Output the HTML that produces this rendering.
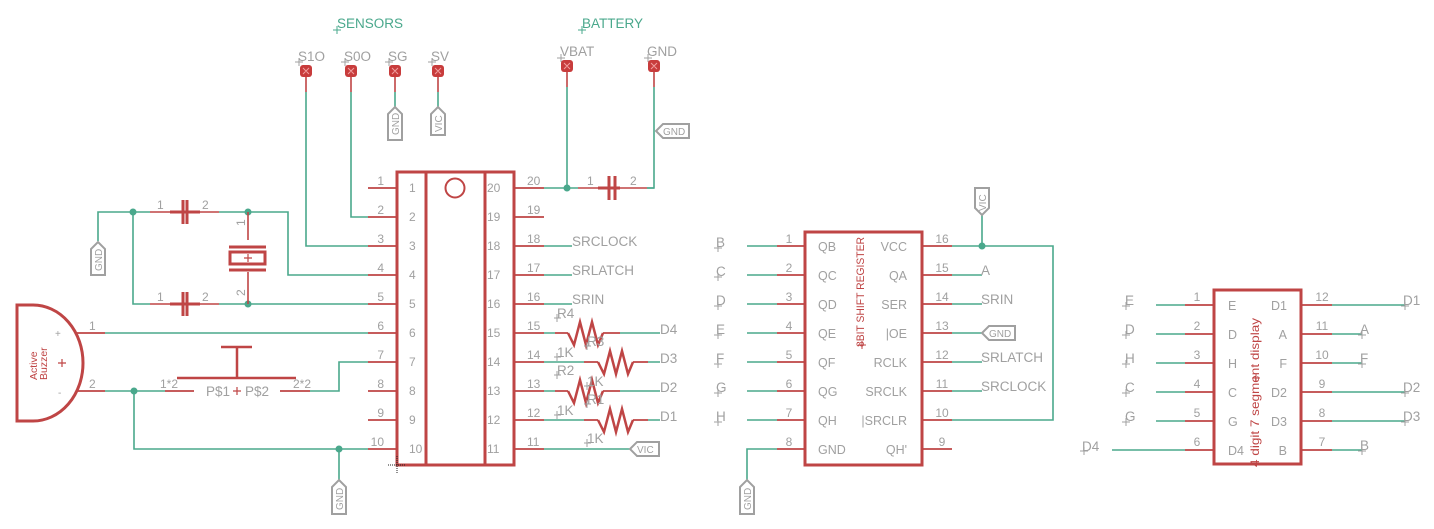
<!DOCTYPE html>
<html><head><meta charset="utf-8"><style>
html,body{margin:0;padding:0;background:#fff;}
svg{display:block;}
text{font-family:"Liberation Sans",sans-serif;fill:#a0a0a0;}
.r{stroke:#bf4545;fill:none;}
.g{stroke:#4aa88c;fill:none;stroke-width:1.6;}
.t{stroke:#a0a0a0;fill:#fff;stroke-width:2;}
.x{stroke:#a0a0a0;stroke-width:1;fill:none;}
</style></head><body>
<svg width="1434" height="529" viewBox="0 0 1434 529" xmlns="http://www.w3.org/2000/svg">
<rect width="1434" height="529" fill="#fff"/>

<!-- Headers -->
<text x="337" y="28" font-size="13.5" style="fill:#4aa88c">SENSORS</text>
<text x="582" y="28" font-size="13.5" style="fill:#4aa88c">BATTERY</text>
<path class="x" style="stroke:#4aa88c" d="M333 30h8M337 26v8M578 30h8M582 26v8"/>

<!-- Pads labels -->
<g font-size="13.5">
<text x="298" y="61">S1O</text>
<text x="344" y="61">S0O</text>
<text x="388" y="61">SG</text>
<text x="431" y="61">SV</text>
<text x="560" y="56">VBAT</text>
<text x="647" y="56">GND</text>
</g>
<path class="x" d="M295 62h8M299 58v8M341 62h8M345 58v8M385 62h8M389 58v8M428 62h8M432 58v8M557 58h8M561 54v8M644 58h8M648 54v8"/>

<!-- pads -->
<g fill="#c83c3c">
<rect x="300" y="65" width="12" height="12" rx="3"/>
<rect x="345" y="65" width="12" height="12" rx="3"/>
<rect x="389" y="65" width="12" height="12" rx="3"/>
<rect x="432" y="65" width="12" height="12" rx="3"/>
<rect x="561" y="60" width="12" height="12" rx="3"/>
<rect x="648" y="60" width="12" height="12" rx="3"/>
</g>
<g stroke="#f0a0a0" stroke-width="1">
<path d="M303 68l6 6M309 68l-6 6M348 68l6 6M354 68l-6 6M392 68l6 6M398 68l-6 6M435 68l6 6M441 68l-6 6M564 63l6 6M570 63l-6 6M651 63l6 6M657 63l-6 6"/>
</g>

<!-- pad wires -->
<path class="r" stroke-width="1.6" d="M306 77v15M351 77v15M395 77v15M438 77v15M567 72v15M654 72v15"/>
<path class="g" d="M306 92V246H368M351 92V217H368M395 92V107M438 92V107M567 87V188M654 87V188H647"/>

<!-- GND tag at SG -->
<polygon class="t" points="388,140 388,114 395,107 402,114 402,140"/>
<text transform="translate(399,135) rotate(-90)" font-size="10">GND</text>
<!-- VIC tag at SV -->
<polygon class="t" points="431,135 431,114 438,107 445,114 445,135"/>
<text transform="translate(442,132) rotate(-90)" font-size="10">VIC</text>
<!-- GND tag left battery -->
<polygon class="t" points="656,131 663,124 689,124 689,138 663,138"/>
<text x="663" y="135" font-size="10">GND</text>

<!-- battery cap -->
<path class="g" d="M544 188H578M647 188H654"/>
<path class="r" stroke-width="1.6" d="M578 188H608M616 188H647"/>
<path class="r" stroke-width="3" d="M598 188H620M609 176V200M615 176V200"/>
<circle cx="567" cy="188" r="3.5" fill="#4aa88c"/>
<text x="587" y="185" font-size="12">1</text>
<text x="630" y="185" font-size="12">2</text>

<!-- MAIN IC -->
<rect class="r" stroke-width="3" x="397" y="172" width="117" height="293"/>
<path class="r" stroke-width="3" d="M426 172V465M485 172V465"/>
<circle class="r" stroke-width="2" cx="455" cy="188" r="9.5"/>
<path stroke="#222" stroke-width="1" stroke-dasharray="1,1" d="M388 465h18M397 456v18"/>

<g class="r" stroke-width="1.8">
<path d="M368 188h29M368 217h29M368 246h29M368 275h29M368 304h29M368 333h29M368 362h29M368 391h29M368 420h29M368 449h29"/>
<path d="M514 188h30M514 217h30M514 246h30M514 275h30M514 304h30M514 333h30M514 362h30M514 391h30M514 420h30M514 449h30"/>
</g>
<g font-size="12">
<g text-anchor="end">
<text x="384" y="185">1</text><text x="384" y="214">2</text><text x="384" y="243">3</text><text x="384" y="272">4</text><text x="384" y="301">5</text><text x="384" y="330">6</text><text x="384" y="359">7</text><text x="384" y="388">8</text><text x="384" y="417">9</text><text x="384" y="446">10</text>
</g>
<text x="409" y="192">1</text><text x="409" y="221">2</text><text x="409" y="250">3</text><text x="409" y="279">4</text><text x="409" y="308">5</text><text x="409" y="337">6</text><text x="409" y="366">7</text><text x="409" y="395">8</text><text x="409" y="424">9</text><text x="409" y="453">10</text>
<text x="487" y="192">20</text><text x="487" y="221">19</text><text x="487" y="250">18</text><text x="487" y="279">17</text><text x="487" y="308">16</text><text x="487" y="337">15</text><text x="487" y="366">14</text><text x="487" y="395">13</text><text x="487" y="424">12</text><text x="487" y="453">11</text>
<text x="527" y="185">20</text><text x="527" y="214">19</text><text x="527" y="243">18</text><text x="527" y="272">17</text><text x="527" y="301">16</text><text x="527" y="330">15</text><text x="527" y="359">14</text><text x="527" y="388">13</text><text x="527" y="417">12</text><text x="527" y="446">11</text>
</g>

<!-- left crystal/caps -->
<path class="g" d="M98 241V212H150M219 212H288V275H368M133 212V304H150M219 304H368"/>
<path class="r" stroke-width="1.6" d="M150 212H182M188 212H219M150 304H182M188 304H219"/>
<path class="r" stroke-width="3" d="M170 212H200M183 200V224M187 200V224M170 304H200M183 292V316M187 292V316"/>
<circle cx="133" cy="212" r="3.5" fill="#4aa88c"/>
<circle cx="248" cy="212" r="3.5" fill="#4aa88c"/>
<circle cx="248" cy="304" r="3.5" fill="#4aa88c"/>
<g font-size="12">
<text x="157" y="209">1</text><text x="202" y="209">2</text>
<text x="157" y="301">1</text><text x="202" y="301">2</text>
<text transform="translate(245,226) rotate(-90)">1</text>
<text transform="translate(245,296) rotate(-90)">2</text>
</g>
<!-- crystal -->
<path class="r" stroke-width="1.6" d="M248 212V240M248 272V304"/>
<path class="r" stroke-width="3" d="M229 247H266M229 270H266"/>
<rect class="r" stroke-width="3" x="230" y="252" width="35" height="12"/>
<path class="r" stroke-width="1.2" d="M244 258h8M248 254v8"/>
<!-- GND tag left -->
<polygon class="t" points="91,275 91,249 98,242 105,249 105,275"/>
<text transform="translate(102,271) rotate(-90)" font-size="10">GND</text>

<!-- Buzzer -->
<path class="r" stroke-width="3" d="M33 305H17V421H33A50 58 0 0 0 33 305"/>
<text transform="translate(37,380) rotate(-90)" font-size="10.5" style="fill:#bf4545">Active</text>
<text transform="translate(47,380) rotate(-90)" font-size="10.5" style="fill:#bf4545">Buzzer</text>
<text x="55" y="337" font-size="10">+</text>
<text x="58" y="396" font-size="10">-</text>
<path class="r" stroke-width="1.2" d="M58 363h8M62 359v8"/>
<path class="r" stroke-width="1.8" d="M77 333H105M77 391H105M165 391H194M280 391H310"/>
<text x="89" y="330" font-size="12">1</text>
<text x="89" y="388" font-size="12">2</text>
<path class="g" d="M105 333H368M105 391H165M310 391H339V362H368M134 391V449H368M339 449V480"/>
<circle cx="134" cy="391" r="3.5" fill="#4aa88c"/>
<circle cx="339" cy="449" r="3.5" fill="#4aa88c"/>
<!-- button -->
<path class="r" stroke-width="2.5" d="M221 347H252M237 347V378M177 378H296"/>
<text x="160" y="388" font-size="12">1*2</text>
<text x="293" y="388" font-size="12">2*2</text>
<text x="206" y="396" font-size="13.5">P$1</text>
<text x="245" y="396" font-size="13.5">P$2</text>
<path class="r" stroke-width="1.2" d="M233 391h8M237 387v8"/>
<!-- GND tag bottom -->
<polygon class="t" points="332,514 332,487 339,480 346,487 346,514"/>
<text transform="translate(343,510) rotate(-90)" font-size="10">GND</text>

<!-- IC right side labels -->
<path class="g" d="M544 246H572M544 275H572M544 304H572"/>
<g font-size="13.5">
<text x="572" y="246">SRCLOCK</text>
<text x="572" y="275">SRLATCH</text>
<text x="572" y="304">SRIN</text>
</g>
<!-- resistors -->
<path class="g" d="M544 333H555M620 333H660M544 362H584M648 362H660M544 391H555M620 391H660M544 420H584M648 420H660M544 449H630"/>
<path class="r" stroke-width="1.8" d="M555 333H568M603 333H620M584 362H598M633 362H648M555 391H568M603 391H620M584 420H598M633 420H648"/>
<g class="r" stroke-width="2.5" stroke-linejoin="miter">
<path d="M568 333L574 345L580 322L586 345L592 322L598 345L603 333"/>
<path d="M598 362L604 374L610 351L616 374L622 351L628 374L633 362"/>
<path d="M568 391L574 403L580 380L586 403L592 380L598 403L603 391"/>
<path d="M598 420L604 432L610 409L616 432L622 409L628 432L633 420"/>
</g>
<g font-size="13.5">
<text x="557" y="318">R4</text>
<text x="557" y="357">1K</text>
<text x="587" y="346">R3</text>
<text x="587" y="386">1K</text>
<text x="557" y="375">R2</text>
<text x="557" y="415">1K</text>
<text x="587" y="404">R1</text>
<text x="587" y="443">1K</text>
<text x="660" y="334">D4</text>
<text x="660" y="363">D3</text>
<text x="660" y="392">D2</text>
<text x="660" y="421">D1</text>
</g>
<path class="x" d="M554 318h7M557 314v8M554 357h7M557 353v8M584 346h7M587 342v8M584 386h7M587 382v8M554 375h7M557 371v8M554 415h7M557 411v8M584 404h7M587 400v8M584 443h7M587 439v8"/>
<!-- VIC tag pin 11 -->
<polygon class="t" points="630,449 637,442 659,442 659,456 637,456"/>
<text x="637" y="453" font-size="10">VIC</text>

<!-- SHIFT REGISTER -->
<rect class="r" stroke-width="3" x="805" y="232" width="117" height="233"/>
<g class="r" stroke-width="1.8">
<path d="M777 246h28M777 275h28M777 304h28M777 333h28M777 362h28M777 391h28M777 420h28M777 449h28"/>
<path d="M922 246h30M922 275h30M922 304h30M922 333h30M922 362h30M922 391h30M922 420h30M922 449h30"/>
</g>
<path class="g" d="M747 246H777M747 275H777M747 304H777M747 333H777M747 362H777M747 391H777M747 420H777M777 449H747V480"/>
<path class="g" d="M952 246H1053V420H952M982 215V246M952 275H982M952 304H982M952 333H982M952 362H982M952 391H982"/>
<circle cx="982" cy="246" r="3.5" fill="#4aa88c"/>
<g font-size="13.5">
<text x="716" y="247">B</text><text x="716" y="276">C</text><text x="716" y="305">D</text><text x="716" y="334">E</text><text x="716" y="363">F</text><text x="716" y="392">G</text><text x="716" y="421">H</text>
<text x="981" y="275">A</text>
<text x="981" y="304">SRIN</text>
<text x="981" y="362">SRLATCH</text>
<text x="981" y="391">SRCLOCK</text>
</g>
<path class="x" d="M714 248h8M718 244v8M714 277h8M718 273v8M714 306h8M718 302v8M714 335h8M718 331v8M714 364h8M718 360v8M714 393h8M718 389v8M714 422h8M718 418v8"/>
<g font-size="12" text-anchor="middle">
<text x="789" y="243">1</text><text x="789" y="272">2</text><text x="789" y="301">3</text><text x="789" y="330">4</text><text x="789" y="359">5</text><text x="789" y="388">6</text><text x="789" y="417">7</text><text x="789" y="446">8</text>
<text x="942" y="243">16</text><text x="942" y="272">15</text><text x="942" y="301">14</text><text x="942" y="330">13</text><text x="942" y="359">12</text><text x="942" y="388">11</text><text x="942" y="417">10</text><text x="942" y="446">9</text>
</g>
<g font-size="12.5">
<text x="818" y="251">QB</text><text x="818" y="280">QC</text><text x="818" y="309">QD</text><text x="818" y="338">QE</text><text x="818" y="367">QF</text><text x="818" y="396">QG</text><text x="818" y="425">QH</text><text x="818" y="454">GND</text>
<g text-anchor="end">
<text x="907" y="251">VCC</text><text x="907" y="280">QA</text><text x="907" y="309">SER</text><text x="907" y="338">|OE</text><text x="907" y="367">RCLK</text><text x="907" y="396">SRCLK</text><text x="907" y="425">|SRCLR</text><text x="907" y="454">QH'</text>
</g>
</g>
<text transform="translate(864,347) rotate(-90)" font-size="11" textLength="110" lengthAdjust="spacingAndGlyphs" style="fill:#bf4545">8BIT SHIFT REGISTER</text>
<!-- tags -->
<polygon class="t" points="975,188 989,188 989,208 982,215 975,208"/>
<text transform="translate(986,211) rotate(-90)" font-size="10">VIC</text>
<polygon class="t" points="982,333 989,326 1015,326 1015,340 989,340"/>
<text x="989" y="337" font-size="10">GND</text>
<polygon class="t" points="740,514 740,487 747,480 754,487 754,514"/>
<text transform="translate(751,510) rotate(-90)" font-size="10">GND</text>

<!-- 7 SEGMENT -->
<rect class="r" stroke-width="3" x="1214" y="290" width="87" height="174"/>
<g class="r" stroke-width="1.8">
<path d="M1185 305h29M1185 334h29M1185 363h29M1185 392h29M1185 421h29M1185 450h29"/>
<path d="M1301 305h31M1301 334h31M1301 363h31M1301 392h31M1301 421h31M1301 450h31"/>
</g>
<path class="g" d="M1156 305H1185M1156 334H1185M1156 363H1185M1156 392H1185M1156 421H1185M1112 450H1185"/>
<path class="g" d="M1332 305H1405M1332 334H1362M1332 363H1362M1332 392H1405M1332 421H1405M1332 450H1362"/>
<g font-size="13.5">
<text x="1125" y="305">E</text><text x="1125" y="334">D</text><text x="1125" y="363">H</text><text x="1125" y="392">C</text><text x="1125" y="421">G</text>
<text x="1082" y="451">D4</text>
<text x="1403" y="305">D1</text><text x="1360" y="334">A</text><text x="1360" y="363">F</text><text x="1403" y="392">D2</text><text x="1403" y="421">D3</text><text x="1360" y="450">B</text>
</g>
<path class="x" d="M1122 306h8M1126 302v8M1122 335h8M1126 331v8M1122 364h8M1126 360v8M1122 393h8M1126 389v8M1122 422h8M1126 418v8M1080 451h8M1084 447v8M1401 306h8M1405 302v8M1358 335h8M1362 331v8M1358 364h8M1362 360v8M1401 393h8M1405 389v8M1401 422h8M1405 418v8M1358 451h8M1362 447v8"/>
<g font-size="12" text-anchor="middle">
<text x="1197" y="301">1</text><text x="1197" y="330">2</text><text x="1197" y="359">3</text><text x="1197" y="388">4</text><text x="1197" y="417">5</text><text x="1197" y="446">6</text>
<text x="1322" y="301">12</text><text x="1322" y="330">11</text><text x="1322" y="359">10</text><text x="1322" y="388">9</text><text x="1322" y="417">8</text><text x="1322" y="446">7</text>
</g>
<g font-size="12.5">
<text x="1228" y="310">E</text><text x="1228" y="339">D</text><text x="1228" y="368">H</text><text x="1228" y="397">C</text><text x="1228" y="426">G</text><text x="1228" y="455">D4</text>
<g text-anchor="end">
<text x="1287" y="310">D1</text><text x="1287" y="339">A</text><text x="1287" y="368">F</text><text x="1287" y="397">D2</text><text x="1287" y="426">D3</text><text x="1287" y="455">B</text>
</g>
</g>
<text transform="translate(1259,467) rotate(-90)" font-size="12" textLength="149" lengthAdjust="spacingAndGlyphs" style="fill:#bf4545">4 digit 7 segment display</text>
<path class="r" stroke-width="1" d="M1252 378h8M1256 374v8M858 345h8M862 341v8"/>
</svg>
</body></html>
